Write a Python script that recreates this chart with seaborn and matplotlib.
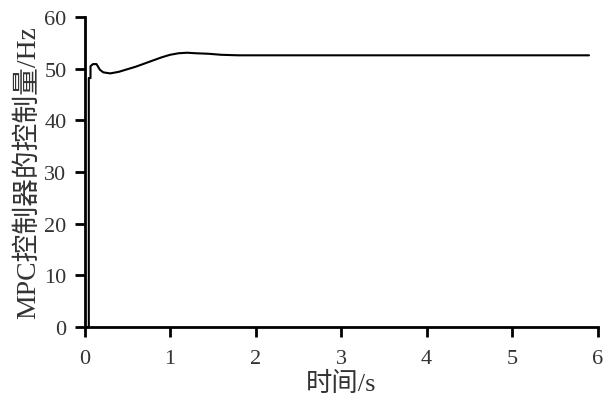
import matplotlib
matplotlib.use("Agg")
import matplotlib.pyplot as plt
import seaborn as sns
import pandas as pd

# time (s) and MPC control output (Hz)
t = [0, 0.05, 0.05, 0.07, 0.07, 0.10, 0.14, 0.18, 0.22, 0.30, 0.40, 0.50,
     0.60, 0.70, 0.80, 0.90, 1.00, 1.10, 1.20, 1.30, 1.45, 1.60, 1.80,
     2.00, 3.00, 4.00, 5.00, 5.90]
u = [0, 0, 48.2, 48.2, 50.5, 50.9, 50.9, 49.8, 49.3, 49.1, 49.4, 49.9,
     50.4, 51.0, 51.6, 52.2, 52.7, 53.0, 53.1, 53.0, 52.9, 52.7, 52.6,
     52.6, 52.6, 52.6, 52.6, 52.6]

xticks = [0, 1, 2, 3, 4, 5, 6]
yticks = [0, 10, 20, 30, 40, 50, 60]

df = pd.DataFrame({"t": t, "u": u})

sns.set_style("ticks")
fonts = ["Liberation Serif", "Noto Sans CJK SC"]
plt.rcParams["font.family"] = fonts

fig = plt.figure(figsize=(6.05, 4.02), dpi=100)
ax = fig.add_axes([0.1397, 0.184, 0.848, 0.771])

sns.lineplot(data=df, x="t", y="u", ax=ax, color="black", linewidth=1.5,
             estimator=None, sort=False)

ax.set_xlim(0, 6)
ax.set_ylim(0, 60)
ax.set_xticks(xticks)
ax.set_yticks(yticks)
ax.tick_params(direction="out", length=7, width=2, labelsize=16,
               colors="black", labelcolor="#333333")
ax.tick_params(axis="x", pad=9)
ax.tick_params(axis="y", pad=6)
sns.despine(ax=ax)
for s in ["left", "bottom"]:
    ax.spines[s].set_linewidth(2)
    ax.spines[s].set_color("black")

ax.set_xlabel("时间/s", fontsize=19, family=fonts, color="#333333", labelpad=2)
ax.set_ylabel("MPC控制器的控制量/Hz", fontsize=20, family=fonts,
              color="#333333", labelpad=2)

fig.savefig("out.png", dpi=100)
